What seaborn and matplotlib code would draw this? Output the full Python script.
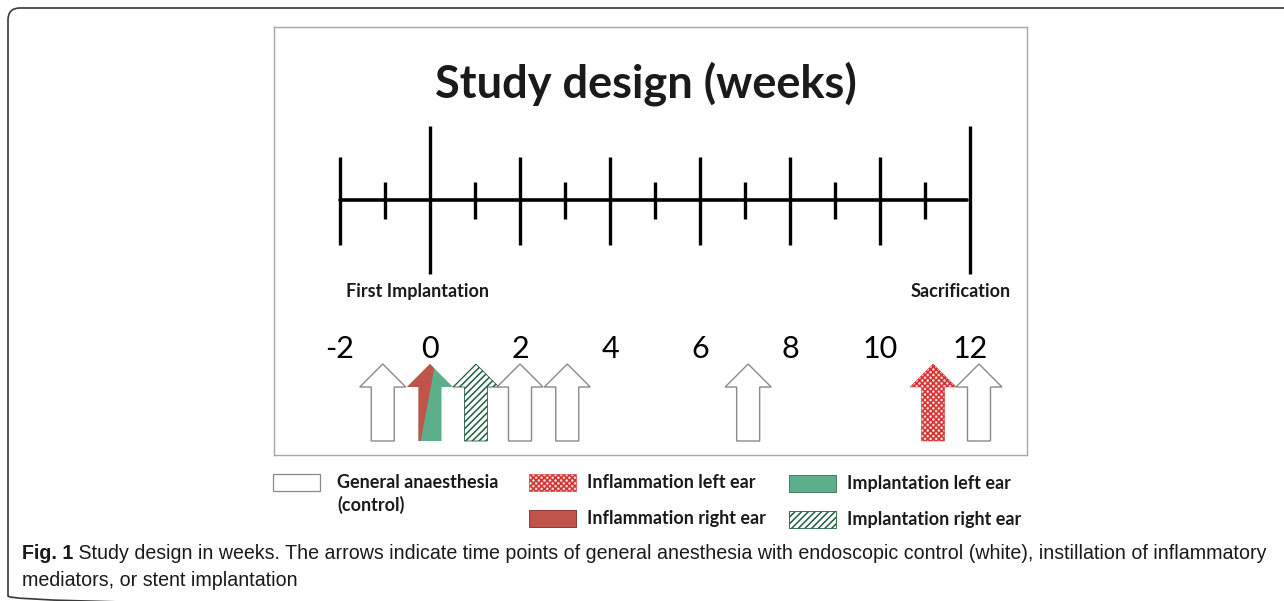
import numpy as np
import pandas as pd
import seaborn as sns
import matplotlib
matplotlib.use("Agg")
import matplotlib.pyplot as plt
from matplotlib.patches import Polygon, Rectangle, FancyBboxPatch
from matplotlib.transforms import Affine2D
from matplotlib import font_manager as fm

# ---------------- data ----------------
title = "Study design (weeks)"
major_weeks = [-2, 0, 2, 4, 6, 8, 10, 12]
minor_weeks = [-1, 1, 3, 5, 7, 9, 11]
landmark_weeks = [0, 12]
landmark_labels = ["First Implantation", "Sacrification"]
landmark_label_weeks = [-0.27, 11.78]
week_labels = ["-2", "0", "2", "4", "6", "8", "10", "12"]
arrow_weeks = [-1.05, 0.0, 1.02, 2.0, 3.05, 7.07, 11.18, 12.2]
arrow_events = ["control", "inflam_right+implant_left", "implant_right", "control",
                "control", "control", "inflam_left", "control"]
legend_keys = ["control", "inflam_left", "inflam_right", "implant_left", "implant_right"]
legend_labels = ["General anaesthesia\n(control)", "Inflammation left ear",
                 "Inflammation right ear", "Implantation left ear", "Implantation right ear"]
caption_bold = "Fig. 1"
caption_line1 = (" Study design in weeks. The arrows indicate time points of general anesthesia "
                 "with endoscopic control (white), instillation of inflammatory")
caption_line2 = "mediators, or stent implantation"

# ---------------- style ----------------
W, H, DPI = 1284, 601, 100
RED = "#C0544B"
GREEN = "#5DAE8A"
DKGREEN = "#1F5E3C"
CHECK = "#D63030"
GRAY = "#8A8A8A"

sns.set_theme(style="white")
names = {f.name for f in fm.fontManager.ttflist}
diag_font = "Lato" if "Lato" in names else "DejaVu Sans"
cap_font = "Liberation Sans Narrow" if "Liberation Sans Narrow" in names else "Liberation Sans"
plt.rcParams["font.family"] = [diag_font, "DejaVu Sans"]
plt.rcParams["hatch.linewidth"] = 1.1

fig = plt.figure(figsize=(W / DPI, H / DPI), dpi=DPI)
fig.patch.set_facecolor("white")
# pixel transform (origin at top-left of the image)
PX = Affine2D().scale(1, -1).translate(0, H).scale(1 / DPI) + fig.dpi_scale_trans

# outer rounded frame
frame = FancyBboxPatch((8, 8), 1300, 600, boxstyle="round,pad=0,rounding_size=12",
                       transform=PX, fill=False, edgecolor="#3A3A3A", lw=1.2)
fig.add_artist(frame)

# main panel (inner box) ; y axis in pixel-like layout units (inverted)
BOX_L, BOX_T, BOX_R, BOX_B = 274, 27, 1027, 455
ax = fig.add_axes([BOX_L / W, 1 - BOX_B / H, (BOX_R - BOX_L) / W, (BOX_B - BOX_T) / H])
PX_PER_WEEK = 45.0
W_AT_340 = -2
ax.set_xlim(W_AT_340 - (340 - BOX_L) / PX_PER_WEEK, W_AT_340 + (BOX_R - 340) / PX_PER_WEEK)
ax.set_ylim(BOX_B, BOX_T)
ax.set_xticks([]); ax.set_yticks([])
for s in ax.spines.values():
    s.set_visible(True); s.set_color("#A8A8A8"); s.set_linewidth(1.0)
ax.set_facecolor("white")

AXIS_Y = 200
MAJOR = (157, 245)
MINOR = (182, 219)
TALL = (126, 274)

base = pd.DataFrame({"week": [major_weeks[0], major_weeks[-1] - 0.07], "y": [AXIS_Y, AXIS_Y]})
sns.lineplot(data=base, x="week", y="y", color="black", lw=2.6, ax=ax)
ax.set_xlabel(""); ax.set_ylabel("")
ax.set_ylim(BOX_B, BOX_T)
reg = [w for w in major_weeks if w not in landmark_weeks]
ax.vlines(reg, MAJOR[0], MAJOR[1], color="black", lw=2.4)
ax.vlines(minor_weeks, MINOR[0], MINOR[1], color="black", lw=2.4)
ax.vlines(landmark_weeks, TALL[0], TALL[1], color="black", lw=2.4)

for w, lab in zip(landmark_label_weeks, landmark_labels):
    ax.text(w, 297, lab, ha="center", va="baseline", fontsize=13, fontweight="bold", color="#1A1A1A")
for w, lab in zip(major_weeks, week_labels):
    ax.text(w, 358, lab, ha="center", va="baseline", fontsize=22, color="black")

fig.text(646 / W, 1 - 97 / H, title, ha="center", va="baseline", fontsize=32.5,
         fontweight="bold", color="#1A1A1A")

# arrows
HEAD_W = 46 / PX_PER_WEEK
SHAFT_W = 23 / PX_PER_WEEK
A_TOP, A_HB, A_BOT = 364, 387, 441


def arrow_verts(xc):
    return [(xc - SHAFT_W / 2, A_BOT), (xc - SHAFT_W / 2, A_HB), (xc - HEAD_W / 2, A_HB),
            (xc, A_TOP), (xc + HEAD_W / 2, A_HB), (xc + SHAFT_W / 2, A_HB),
            (xc + SHAFT_W / 2, A_BOT)]


for xc, ev in zip(arrow_weeks, arrow_events):
    if ev == "control":
        ax.add_patch(Polygon(arrow_verts(xc), closed=True, facecolor="white",
                             edgecolor=GRAY, lw=1.0, zorder=3))
    elif ev == "inflam_right+implant_left":
        g = Polygon(arrow_verts(xc), closed=True, facecolor=GREEN, edgecolor="none", zorder=3)
        ax.add_patch(g)
        r = Polygon([(xc - 1, A_TOP - 5), (xc + 0.12, A_TOP - 2), (xc - 0.21, A_BOT + 1),
                     (xc - 1, A_BOT + 1)], closed=True, facecolor=RED, edgecolor="none", zorder=4)
        ax.add_patch(r)
        r.set_clip_path(g)
    elif ev == "implant_right":
        ax.add_patch(Polygon(arrow_verts(xc), closed=True, facecolor="white", hatch="/////",
                             edgecolor=DKGREEN, lw=0.6, zorder=3))
    elif ev == "inflam_left":
        ax.add_patch(Polygon(arrow_verts(xc), closed=True, facecolor="#F6D6D6", hatch="xxxxxx",
                             edgecolor=CHECK, lw=0.4, zorder=3))

# legend (manual layout, pixel coordinates)
swatch_style = {
    "control": dict(facecolor="white", edgecolor=GRAY, lw=0.9),
    "inflam_left": dict(facecolor="#F6D6D6", edgecolor=CHECK, hatch="xxxxxx", lw=0.4),
    "inflam_right": dict(facecolor=RED, edgecolor="#8E3A33", lw=0.7),
    "implant_left": dict(facecolor=GREEN, edgecolor="#3F7F62", lw=0.7),
    "implant_right": dict(facecolor="white", edgecolor=DKGREEN, hatch="/////", lw=0.6),
}
swatch_pos = {  # (x, y_top, text_x) in pixels
    "control": (273, 474, 337), "inflam_left": (529, 474, 587), "inflam_right": (529, 510, 587),
    "implant_left": (789, 475, 847), "implant_right": (789, 511, 847),
}
SW_W, SW_H = 47, 17
for key, lab in zip(legend_keys, legend_labels):
    x0, y0, tx = swatch_pos[key]
    fig.add_artist(Rectangle((x0, y0), SW_W, SW_H, transform=PX, **swatch_style[key]))
    for i, line in enumerate(lab.split("\n")):
        fig.text(tx / W, 1 - (y0 + 14 + i * 23) / H, line, ha="left",
                 va="baseline", fontsize=13, fontweight="bold", color="#1A1A1A")

# caption, fitted to width
renderer = fig.canvas.get_renderer()
fs = 13.0
tb = fig.text(22 / W, 1 - 559 / H, caption_bold, fontsize=fs, fontweight="bold",
              family=[cap_font, "DejaVu Sans"], ha="left", va="baseline", color="#1A1A1A")
tn = fig.text(0, 1 - 559 / H, caption_line1, fontsize=fs, family=[cap_font, "DejaVu Sans"],
              ha="left", va="baseline", color="#1A1A1A")
wb = tb.get_window_extent(renderer).width
wn = tn.get_window_extent(renderer).width
scale = (1263 - 22) / (wb + wn)
fs *= scale
tb.set_fontsize(fs); tn.set_fontsize(fs)
wb = tb.get_window_extent(renderer).width
tn.set_x((22 + wb) / W)
fig.text(22 / W, 1 - 586 / H, caption_line2, fontsize=fs, family=[cap_font, "DejaVu Sans"],
         ha="left", va="baseline", color="#1A1A1A")

fig.savefig("out.png", dpi=DPI, facecolor="white")
